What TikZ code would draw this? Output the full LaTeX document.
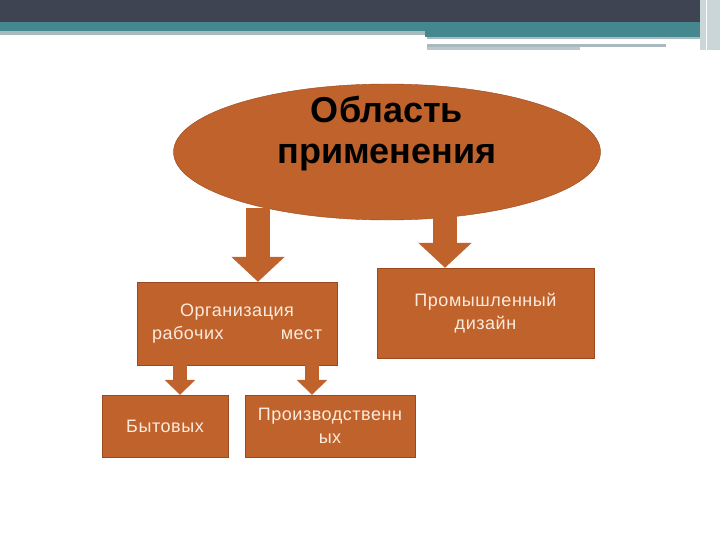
\documentclass[tikz,border=0pt]{standalone}
\usepackage{fontspec}
\setmainfont{Liberation Sans}
\usetikzlibrary{shapes.geometric, arrows.meta, positioning, calc}

\definecolor{rust}{HTML}{C0622C}
\definecolor{rustdark}{HTML}{9A4A1E}
\definecolor{cream}{HTML}{FCEBDD}
\definecolor{hdark}{HTML}{3F4453}
\definecolor{hteal}{HTML}{44878F}
\definecolor{hgray}{HTML}{A9BABF}

\begin{document}
\begin{tikzpicture}[x=1pt, y=-1pt,
    box/.style={rectangle, draw=rustdark, fill=rust, text=cream, inner sep=0pt,
        align=center, font=\fontsize{18}{23}\selectfont\addfontfeatures{LetterSpace=3}},
    bigarrow/.style={rust, line width=24pt, -{Triangle[width=52pt, length=25pt]}},
    smallarrow/.style={rust, line width=14pt, -{Triangle[width=30pt, length=15pt]}}
]
    \fill[white] (0,0) rectangle (720,540);
    \useasboundingbox (0,0) rectangle (720,540);

    % header bars
    \fill[hdark] (0,0) rectangle (720,22);
    \fill[hteal] (0,22) rectangle (720,31);
    \fill[hgray] (0,31) rectangle (425,35);
    \fill[hteal] (425,31) rectangle (705,37);
    \fill[hgray] (427,37) rectangle (705,39);
    \fill[hgray] (427,44) rectangle (666,47);
    \fill[hgray!80] (427,47) rectangle (580,50);
    \fill[hgray!60] (700,0) rectangle (720,50);
    \draw[white, line width=1pt] (706,0) -- (706,50);

    \node[ellipse, draw=rustdark, fill=rust, minimum width=427pt, minimum height=136pt] (area) at (387,152) {};
    \node[font=\bfseries\fontsize{36}{41}\selectfont, align=center] (title) at (387,134) {Область\\применения};

    \node[box, minimum width=200pt, minimum height=83pt] (work) at (237,323.5)
        {Организация\\\makebox[170pt][s]{рабочих\hfill мест}};
    \node[box, minimum width=217pt, minimum height=90pt] (design) at (485.5,313) {Промышленный\\дизайн};
    \node[box, minimum width=126pt, minimum height=62pt] (home) at (165,426) {Бытовых};
    \node[box, minimum width=170pt, minimum height=62pt] (prod) at (330,426) {Производственн\\ых};

    \coordinate (w0) at (258,208);
    \coordinate (d0) at (445,205);
    \draw[bigarrow] (w0) -- (w0 |- work.north);
    \draw[bigarrow] (d0) -- (d0 |- design.north);
    \draw[smallarrow] ([xshift=-57pt]work.south) -- ([xshift=15pt]home.north);
    \draw[smallarrow] ([xshift=75pt]work.south) -- ([xshift=-18pt]prod.north);
\end{tikzpicture}
\end{document}
